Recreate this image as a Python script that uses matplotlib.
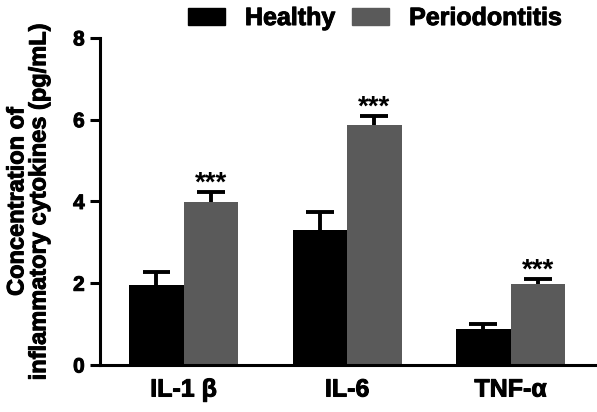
import numpy as np
import matplotlib
matplotlib.use("Agg")
from matplotlib import pyplot as plt
from matplotlib.patches import Patch
import matplotlib.patheffects as pe

plt.rcParams['font.family'] = ['Liberation Sans', 'DejaVu Sans']
plt.rcParams['font.weight'] = 'bold'

cytokines = ['IL-1 β', 'IL-6', 'TNF-α']
healthy = [1.96, 3.30, 0.88]
healthy_err = [0.32, 0.45, 0.12]
perio = [3.99, 5.87, 1.98]
perio_err = [0.24, 0.23, 0.13]
stars = ['***', '***', '***']

thick = [pe.withStroke(linewidth=0.7, foreground='black')]

fig = plt.figure(figsize=(5.97, 4.12), dpi=100)
ax = fig.add_axes([0.1675, 0.114, 0.83, 0.794])

x = np.arange(len(cytokines))
w = 0.333
cap = 0.085
ax.bar(x - w / 2, healthy, w, color='black')
ax.bar(x + w / 2, perio, w, color='#5a5a5a')

# upper error bars only
for xs, vals, errs in [(x - w / 2, healthy, healthy_err), (x + w / 2, perio, perio_err)]:
    for xi, v, e in zip(xs, vals, errs):
        ax.vlines(xi, v, v + e, color='black', lw=2.8)
        ax.hlines(v + e, xi - cap, xi + cap, color='black', lw=2.8)

for i in range(len(x)):
    ax.text(x[i] + w / 2, perio[i] + perio_err[i] - 0.12, stars[i],
            ha='center', va='bottom', fontsize=20, fontweight='bold')

ax.set_xlim(-0.512, 2.52)
ax.set_ylim(0, 8)
ax.set_yticks([0, 2, 4, 6, 8])
ax.set_xticks(x)
ax.set_xticklabels(cytokines, fontsize=18, fontweight='bold')
ax.tick_params(axis='y', labelsize=15, width=2.2, length=7, pad=4)
ax.tick_params(axis='x', length=0, pad=9)
for lab in ax.get_yticklabels() + ax.get_xticklabels():
    lab.set_fontweight('bold')
    lab.set_path_effects(thick)
ax.spines['top'].set_visible(False)
ax.spines['right'].set_visible(False)
ax.spines['left'].set_linewidth(2.2)
ax.spines['bottom'].set_linewidth(2.2)
ylab = ax.set_ylabel('Concentration of\ninflammatory cytokines (pg/mL)',
                     fontsize=17, fontweight='bold', linespacing=0.95)
ylab.set_path_effects(thick)
ax.yaxis.set_label_coords(-0.10, 0.5)

handles = [Patch(color='black', label='Healthy'),
           Patch(color='#5a5a5a', label='Periodontitis')]
leg = fig.legend(handles=handles, loc='upper center', bbox_to_anchor=(0.628, 1.04),
                 ncol=2, frameon=False, prop={'size': 18, 'weight': 'bold'},
                 handlelength=1.48, handleheight=0.68, columnspacing=0.68,
                 handletextpad=0.8)
for t in leg.get_texts():
    t.set_path_effects(thick)

fig.savefig('out.png', dpi=100)
